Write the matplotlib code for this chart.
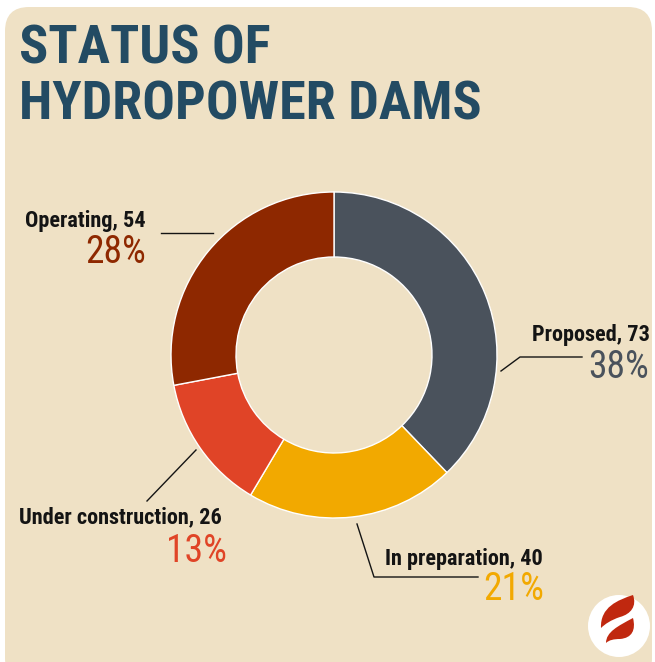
import matplotlib
matplotlib.use("Agg")
import matplotlib.pyplot as plt
from matplotlib.patches import FancyBboxPatch, Circle, PathPatch
from matplotlib.path import Path

# Data
categories = ["Proposed", "In preparation", "Under construction", "Operating"]
counts = [73, 40, 26, 54]
percents = [38, 21, 13, 28]
colors = ["#4a525c", "#f2a900", "#e04427", "#8e2800"]

title_lines = ["STATUS OF", "HYDROPOWER DAMS"]

fam = ["Roboto Condensed", "DejaVu Sans"]

W, H = 655, 662
fig = plt.figure(figsize=(W / 100, H / 100), dpi=100)
ax = fig.add_axes([0, 0, 1, 1])

# rounded background
bg = FancyBboxPatch((5, -20), 647, 675, boxstyle="round,pad=0,rounding_size=24",
                    facecolor="#efe1c5", edgecolor="none", zorder=0)
ax.add_patch(bg)

# title
ax.text(19, H - 63, title_lines[0], fontsize=39, fontweight="bold", family=fam,
        color="#234b63", va="baseline", ha="left")
ax.text(19, H - 119, title_lines[1], fontsize=39, fontweight="bold", family=fam,
        color="#234b63", va="baseline", ha="left")

# donut
cx, cy, r = 334, H - 355, 163
ax.pie(counts, colors=colors, startangle=90, counterclock=False,
       center=(cx, cy), radius=r, frame=True,
       wedgeprops=dict(width=65, edgecolor="white", linewidth=1))
ax.set_xlim(0, W)
ax.set_ylim(0, H)
ax.set_aspect("equal")
ax.axis("off")

# labels: (label right x, label baseline px, percent right x, percent baseline px)
label_pos = [(650, 341, 649, 378),
             (543, 565, 544, 600),
             (222, 523, 227, 562),
             (146, 227, 146, 263)]
for cat, n, p, c, (lx, ly, px, py) in zip(categories, counts, percents, colors, label_pos):
    ax.text(lx, H - ly, f"{cat}, {n}", fontsize=16, fontweight="bold", family=fam,
            color="#141414", ha="right", va="baseline")
    ax.text(px, H - py, f"{p}%", fontsize=27, color=c, family=fam,
            ha="right", va="baseline")

# leader lines
leaders = [
    [(501, 371), (520, 357), (582, 357)],
    [(357, 524), (374, 577), (478, 577)],
    [(147, 501), (196, 450)],
    [(161, 233), (213, 233)],
]
for pts in leaders:
    xs = [q[0] for q in pts]
    ys = [H - q[1] for q in pts]
    ax.plot(xs, ys, color="#141414", lw=1)

# logo
ax.add_patch(Circle((619, H - 626), 31, facecolor="white", edgecolor="none"))
def flame(pts):
    verts = [(x, H - y) for x, y in pts]
    codes = [Path.MOVETO] + [Path.CURVE4] * (len(verts) - 2) + [Path.CLOSEPOLY]
    return PathPatch(Path(verts, codes), facecolor="#c0280f", edgecolor="none")
ax.add_patch(flame([(601, 628), (600, 607), (618, 600), (633, 595),
                    (637, 606), (631, 614), (620, 617),
                    (611, 620), (605, 624), (601, 628), (601, 628)]))
ax.add_patch(flame([(606, 643), (606, 632), (618, 626), (633, 618),
                    (636, 630), (632, 638), (620, 639),
                    (614, 639), (609, 640), (606, 643), (606, 643)]))

fig.savefig("out.png", dpi=100, facecolor="white")
